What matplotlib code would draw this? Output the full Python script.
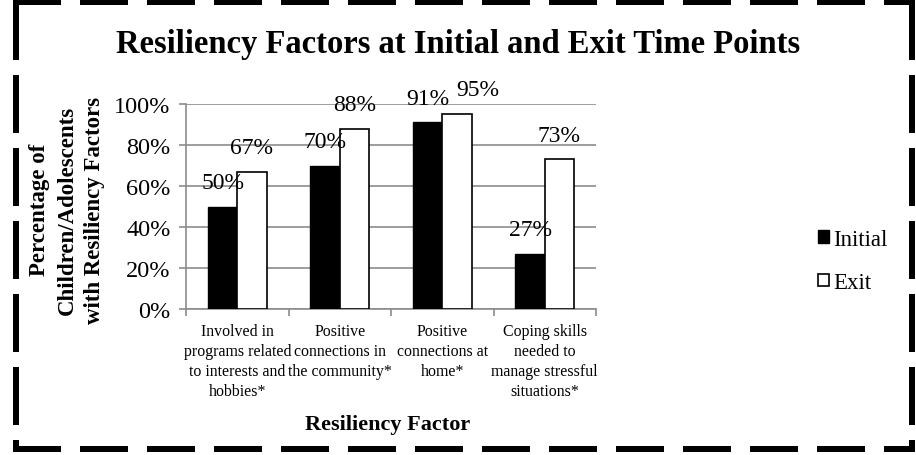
import numpy as np
import matplotlib.pyplot as plt
from matplotlib.lines import Line2D

plt.rcParams['font.family'] = ['Liberation Serif', 'DejaVu Serif']
plt.rcParams['lines.scale_dashes'] = False

categories = ['Involved in\nprograms related\nto interests and\nhobbies*',
              'Positive\nconnections in\nthe community*',
              'Positive\nconnections at\nhome*',
              'Coping skills\nneeded to\nmanage stressful\nsituations*']
initial = [50, 70, 91, 27]
exit_ = [67, 88, 95, 73]

W, H = 916, 456
fig = plt.figure(figsize=(W / 100, H / 100), dpi=100)

# plot area in pixels
x0, x1, y0, y1 = 186, 596, 310, 105
ax = fig.add_axes([x0 / W, 1 - y0 / H, (x1 - x0) / W, (y0 - y1) / H])

x = np.arange(len(categories))
bw = 1 / 3.5
gray = '#8c8c8c'

ax.bar(x - bw / 2, initial, bw, color='black', edgecolor='black', lw=1, zorder=3, label='Initial')
ax.bar(x + bw / 2, exit_, bw, color='white', edgecolor='black', lw=1.2, zorder=3, label='Exit')

ax.set_xlim(-0.5, len(categories) - 0.5)
ax.set_ylim(0, 100)
ax.set_yticks(range(0, 101, 20))
ax.set_yticklabels([f'{v}%' for v in range(0, 101, 20)], fontsize=17.5)
ax.set_xticks(x)
ax.set_xticklabels(categories, fontsize=11.4, linespacing=1.35)
ax.set_xticks(np.arange(-0.5, len(categories)), minor=True)
ax.tick_params(axis='x', which='major', length=0, pad=10)
ax.tick_params(axis='x', which='minor', length=5, color=gray, width=1.2)
ax.tick_params(axis='y', length=5, color=gray, width=1.2, pad=6)
ax.grid(axis='y', color=gray, lw=1.2, zorder=0)
for s in ['top', 'right']:
    ax.spines[s].set_visible(False)
for s in ['left', 'bottom']:
    ax.spines[s].set_color(gray)
    ax.spines[s].set_linewidth(1.2)

# value labels above bars, nudging the exit label when the two would collide
for i in range(len(categories)):
    ax.annotate(f'{initial[i]}%', (x[i] - bw / 2, initial[i]), xytext=(0, 17.5),
                textcoords='offset points', ha='center', va='center', fontsize=17)
    dx = 15 if exit_[i] - initial[i] < 8 else 0
    ax.annotate(f'{exit_[i]}%', (x[i] + bw / 2, exit_[i]), xytext=(dx, 17.5),
                textcoords='offset points', ha='center', va='center', fontsize=17)

fig.text(458 / W, 1 - 45 / H, 'Resiliency Factors at Initial and Exit Time Points',
         ha='center', va='center', fontsize=23.5, fontweight='bold')
fig.text(67 / W, 1 - 210 / H, 'Percentage of\nChildren/Adolescents\nwith Resiliency Factors',
         ha='center', va='center', rotation=90, fontsize=16.5, fontweight='bold', linespacing=1.38)
fig.text(388 / W, 1 - 425 / H, 'Resiliency Factor', ha='center', va='center',
         fontsize=16, fontweight='bold')

ax.legend(loc='center left', bbox_to_anchor=(807 / W, 1 - 262 / H), bbox_transform=fig.transFigure,
          frameon=False, fontsize=16.5, handlelength=0.45, handleheight=0.45, handletextpad=0.2,
          labelspacing=1.0, borderpad=0)

# dashed frame round the whole chart
lw = 6 * 0.72
hd = (48 * 0.72, 19 * 0.72)
vd = (58 * 0.72, 15 * 0.72)
frame = [([13, 915], [3, 3], hd), ([13, 915], [450, 450], hd),
         ([16, 16], [3, 453], vd), ([912, 912], [3, 453], vd)]
for xs, ys, d in frame:
    fig.add_artist(Line2D([v / W for v in xs], [1 - v / H for v in ys], transform=fig.transFigure,
                          color='black', lw=lw, dashes=d, solid_capstyle='butt', dash_capstyle='butt'))

fig.savefig('out.png', dpi=100)
